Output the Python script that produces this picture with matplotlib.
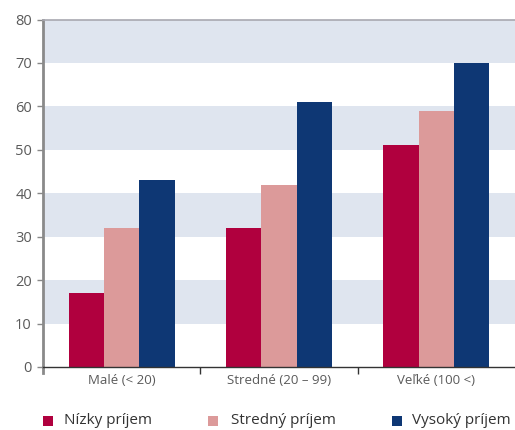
import matplotlib
matplotlib.use("Agg")
import matplotlib.pyplot as plt
from matplotlib.patches import Rectangle
from matplotlib.lines import Line2D

plt.rcParams['font.family'] = ['Open Sans', 'DejaVu Sans']

categories = ["Malé (< 20)", "Stredné (20 – 99)", "Veľké (100 <)"]
series_names = ["Nízky príjem", "Stredný príjem", "Vysoký príjem"]
nizky = [17, 32, 51]
stredny = [32, 42, 59]
vysoky = [43, 61, 70]
y_ticks = [0, 10, 20, 30, 40, 50, 60, 70, 80]

colors = ["#B0003E", "#DC9A9A", "#0E3774"]
band_color = "#DFE5EF"

W, H = 515, 430
fig = plt.figure(figsize=(W / 100, H / 100), dpi=100)
ax = fig.add_axes([43 / W, 1 - 367 / H, (515 - 43) / W, (367 - 19.5) / H])

# alternating horizontal bands
for lo in (10, 30, 50, 70):
    ax.axhspan(lo, lo + 10, color=band_color, lw=0, zorder=0)

bw = 0.225
xs = range(len(categories))
for i, (vals, c) in enumerate(zip([nizky, stredny, vysoky], colors)):
    ax.bar([x + (i - 1) * bw for x in xs], vals, width=bw, color=c, lw=0, zorder=2)

ax.set_xlim(-0.5, 2.5)
ax.set_ylim(0, 80)
ax.set_yticks(y_ticks)
ax.tick_params(axis='y', length=4, width=1, color="#888888", labelsize=10.5,
               labelcolor="#5A5A5A", pad=4)
ax.set_xticks([0.5, 1.5])
ax.set_xticklabels([])
ax.tick_params(axis='x', which='major', length=5, width=1, color="#333333")
ax.set_xticks(list(xs), minor=True)
ax.set_xticklabels(categories, minor=True)
ax.tick_params(axis='x', which='minor', length=0, labelsize=9.5,
               labelcolor="#5A5A5A", pad=5)

ax.spines['right'].set_visible(False)
ax.spines['top'].set_color("#A8A8B0")
ax.spines['top'].set_linewidth(1.2)
ax.spines['bottom'].set_color("#333333")
ax.spines['bottom'].set_linewidth(1.0)
ax.spines['bottom'].set_zorder(3)
ax.spines['left'].set_color("#8A8A8A")
ax.spines['left'].set_linewidth(2)
# y-axis line extends slightly below zero
ax.add_line(Line2D([-0.5, -0.5], [0, -1.4], color="#8A8A8A", lw=2, clip_on=False))

# legend row
legend_items = [(43, 64), (208, 231), (392, 412)]
for (sx, tx), name, c in zip(legend_items, series_names, colors):
    fig.add_artist(Rectangle((sx / W, 1 - 426 / H), 10 / W, 10 / H,
                             transform=fig.transFigure, color=c, lw=0))
    fig.text(tx / W, 1 - 421 / H, name, fontsize=11, color="#333333",
             va='center', ha='left')

fig.savefig("out.png", dpi=100)
